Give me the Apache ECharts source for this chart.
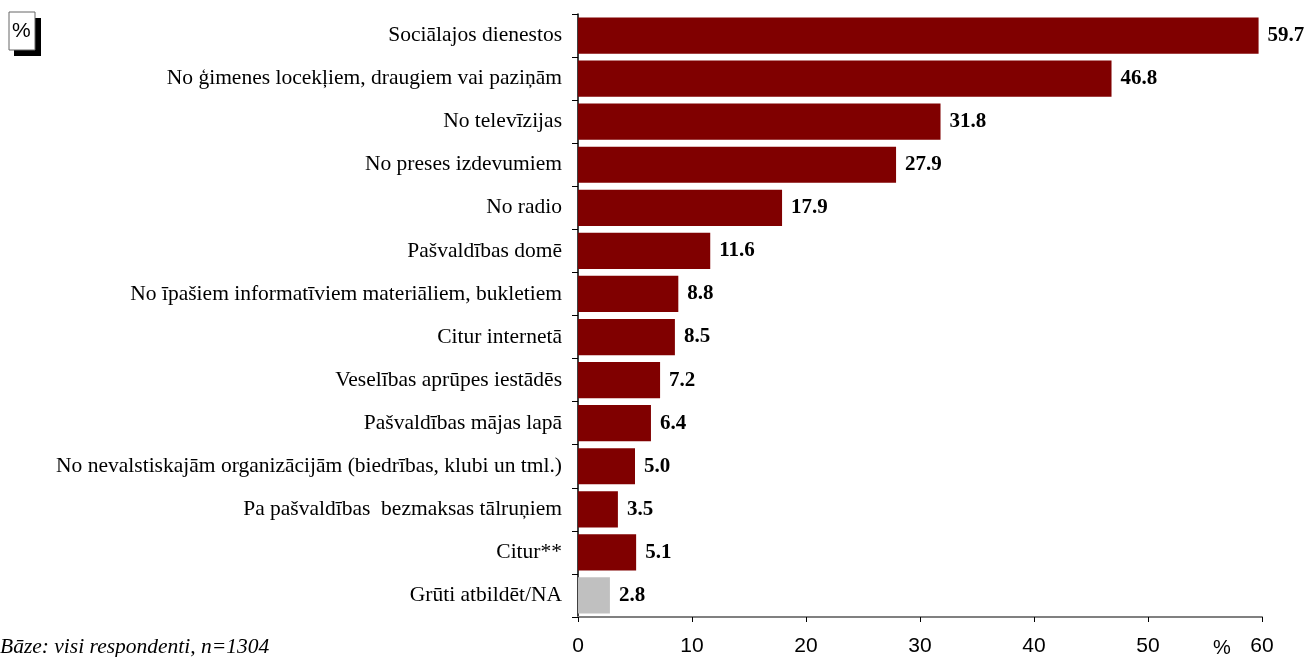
<!DOCTYPE html>
<html>
<head>
<meta charset="utf-8">
<script src="https://cdn.jsdelivr.net/npm/echarts@6/dist/echarts.min.js"></script>
<style>
  html, body { margin: 0; padding: 0; background: #fff; }
  #chart { width: 1306px; height: 657px; }
</style>
</head>
<body>
<div id="chart"></div>
<script>
const categories = [
  'Sociālajos dienestos',
  'No ģimenes locekļiem, draugiem vai paziņām',
  'No televīzijas',
  'No preses izdevumiem',
  'No radio',
  'Pašvaldības domē',
  'No īpašiem informatīviem materiāliem, bukletiem',
  'Citur internetā',
  'Veselības aprūpes iestādēs',
  'Pašvaldības mājas lapā',
  'No nevalstiskajām organizācijām (biedrības, klubi un tml.)',
  'Pa pašvaldības  bezmaksas tālruņiem',
  'Citur**',
  'Grūti atbildēt/NA'
];
const values = [59.7, 46.8, 31.8, 27.9, 17.9, 11.6, 8.8, 8.5, 7.2, 6.4, 5.0, 3.5, 5.1, 2.8];
const xTicks = [0, 10, 20, 30, 40, 50, 60];

const chart = echarts.init(document.getElementById('chart'));
const serif = '"Liberation Serif", "Times New Roman", serif';
const sans = '"Liberation Sans", Arial, sans-serif';

chart.setOption({
  animation: false,
  grid: { left: 578, right: 44, top: 14, bottom: 40, containLabel: false },
  xAxis: {
    type: 'value', min: xTicks[0], max: xTicks[xTicks.length - 1], interval: 10,
    axisLine: { show: true, lineStyle: { color: '#808080', width: 2 } },
    axisTick: { show: true, length: 5, lineStyle: { color: '#000' } },
    splitLine: { show: false },
    axisLabel: { color: '#000', fontFamily: sans, fontSize: 21, margin: 19 }
  },
  yAxis: {
    type: 'category', data: categories, inverse: true,
    axisLine: { show: true, lineStyle: { color: '#000', width: 1.5 } },
    axisTick: { show: true, length: 6, inside: false, lineStyle: { color: '#000' } },
    axisLabel: { color: '#000', fontFamily: serif, fontSize: 21.5, margin: 16 }
  },
  series: [{
    type: 'bar',
    barCategoryGap: '16%',
    data: values.map((v, i) => ({
      value: v,
      itemStyle: { color: i === values.length - 1 ? '#c0c0c0' : '#800000' }
    })),
    label: {
      show: true, position: 'right', distance: 9,
      color: '#000', fontFamily: serif, fontWeight: 'bold', fontSize: 21,
      formatter: p => p.value.toFixed(1)
    }
  }],
  graphic: [
    { type: 'rect', shape: { x: 14, y: 18, width: 27, height: 38 }, style: { fill: '#000' } },
    { type: 'rect', shape: { x: 9, y: 12, width: 26, height: 38 }, style: { fill: '#fff', stroke: '#666', lineWidth: 1 } },
    { type: 'text', left: 12, top: 21, style: { text: '%', font: '21px "Liberation Sans", Arial, sans-serif', fill: '#000' } },
    { type: 'text', left: 0, top: 636, style: { text: 'Bāze: visi respondenti, n=1304', font: 'italic 21.5px "Liberation Serif", "Times New Roman", serif', fill: '#000' } },
    { type: 'text', left: 1213, top: 638, style: { text: '%', font: '20px "Liberation Sans", Arial, sans-serif', fill: '#000' } }
  ]
});
</script>
</body>
</html>
